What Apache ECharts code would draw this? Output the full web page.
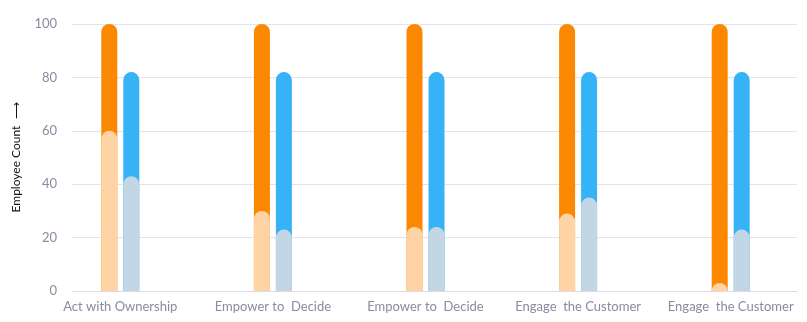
<!DOCTYPE html>
<html>
<head>
<meta charset="utf-8">
<script src="https://cdn.jsdelivr.net/npm/echarts@6/dist/echarts.min.js"></script>
<style>html,body{margin:0;padding:0;background:#fff}#c{width:807px;height:322px}</style>
</head>
<body>
<div id="c"></div>
<script>
var categories = ['Act with Ownership', 'Empower to  Decide', 'Empower to  Decide', 'Engage  the Customer', 'Engage  the Customer'];
var totalA = [100, 100, 100, 100, 100];
var totalB = [82, 82, 82, 82, 82];
var valueA = [60, 30, 24, 29, 3];
var valueB = [43, 23, 24, 35, 23];
var yTicks = [0, 20, 40, 60, 80, 100];

var FONT = 'Lato';
var chart = echarts.init(document.getElementById('c'));
var cats = categories.map(function (c, i) { return { value: c + '#' + i }; });
chart.setOption({
  animation: false,
  grid: [
    { left: 72, right: 10, top: 24, bottom: 31 },
    { left: 44, right: -6, top: 24, bottom: 31 }
  ],
  xAxis: [
    { gridIndex: 0, type: 'category', data: categories.map(function (c, i) { return c + i; }),
      axisLine: { lineStyle: { color: '#dcdce9' } }, axisTick: { show: false }, axisLabel: { show: false }, splitLine: { show: false } },
    { gridIndex: 1, type: 'category', data: cats,
      axisLine: { show: false }, axisTick: { show: false },
      axisLabel: { interval: 0, hideOverlap: false, color: '#8a8aa0', fontSize: 13, fontFamily: FONT, margin: 9,
        formatter: function (v) { return v.split('#')[0]; } } },
    { gridIndex: 1, type: 'category', data: cats, show: false }
  ],
  yAxis: [
    { gridIndex: 0, type: 'value', min: 0, max: yTicks[yTicks.length - 1], interval: yTicks[1] - yTicks[0],
      name: 'Employee Count  \u27F6', nameLocation: 'middle', nameGap: 50,
      nameTextStyle: { color: '#111', fontSize: 12, fontFamily: FONT },
      axisLine: { show: false }, axisTick: { show: false },
      axisLabel: { color: '#8a8aa0', fontSize: 13, fontFamily: FONT, margin: 15 },
      splitLine: { lineStyle: { color: '#e3e3ee' } } },
    { gridIndex: 1, type: 'value', min: 0, max: 100, show: false, splitLine: { show: false } }
  ],
  series: [
    { type: 'bar', xAxisIndex: 1, yAxisIndex: 1, data: totalA, barWidth: 16, barGap: '37.5%',
      itemStyle: { color: '#fb8800', borderRadius: [8, 8, 0, 0] } },
    { type: 'bar', xAxisIndex: 1, yAxisIndex: 1, data: totalB, barWidth: 16, barGap: '37.5%',
      itemStyle: { color: '#36b3f7', borderRadius: [8, 8, 0, 0] } },
    { type: 'bar', xAxisIndex: 2, yAxisIndex: 1, data: valueA, barWidth: 16, barGap: '37.5%',
      itemStyle: { color: '#ffd3a4', borderRadius: [8, 8, 0, 0] } },
    { type: 'bar', xAxisIndex: 2, yAxisIndex: 1, data: valueB, barWidth: 16, barGap: '37.5%',
      itemStyle: { color: '#c3d6e5', borderRadius: [8, 8, 0, 0] } }
  ]
});
</script>
</body>
</html>
